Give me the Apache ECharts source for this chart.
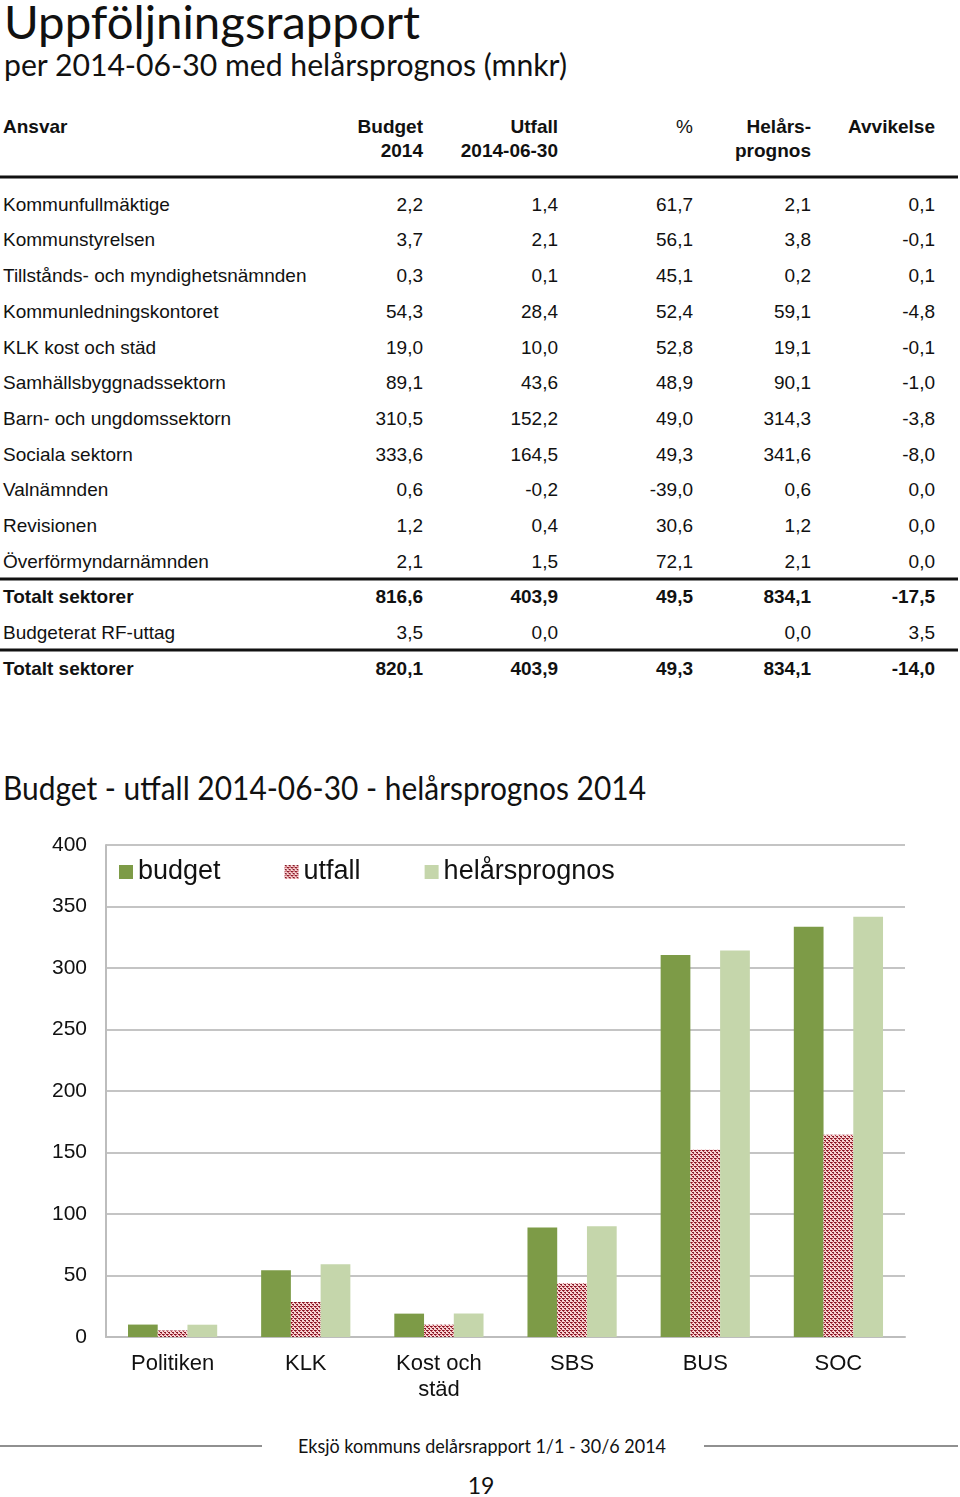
<!DOCTYPE html>
<html><head><meta charset="utf-8">
<script src="https://cdn.jsdelivr.net/npm/echarts/dist/echarts.min.js"></script>
<style>
html,body{margin:0;padding:0;background:#fff;width:960px;height:1497px;overflow:hidden}
#page{position:absolute;left:0;top:0}
#chart{position:absolute;left:0;top:820px;width:960px;height:620px}
</style></head><body>
<svg id="page" width="960" height="1497" xmlns="http://www.w3.org/2000/svg"></svg>
<div id="chart"></div>
<script>
// ---------- table data ----------
const tableRows = ['Kommunfullmäktige','Kommunstyrelsen','Tillstånds- och myndighetsnämnden','Kommunledningskontoret','KLK kost och städ','Samhällsbyggnadssektorn','Barn- och ungdomssektorn','Sociala sektorn','Valnämnden','Revisionen','Överförmyndarnämnden','Totalt sektorer','Budgeterat RF-uttag','Totalt sektorer'];
const tBudget   = [2.2, 3.7, 0.3, 54.3, 19.0, 89.1, 310.5, 333.6, 0.6, 1.2, 2.1, 816.6, 3.5, 820.1];
const tUtfall   = [1.4, 2.1, 0.1, 28.4, 10.0, 43.6, 152.2, 164.5, -0.2, 0.4, 1.5, 403.9, 0.0, 403.9];
const tPct      = [61.7, 56.1, 45.1, 52.4, 52.8, 48.9, 49.0, 49.3, -39.0, 30.6, 72.1, 49.5, null, 49.3];
const tPrognos  = [2.1, 3.8, 0.2, 59.1, 19.1, 90.1, 314.3, 341.6, 0.6, 1.2, 2.1, 834.1, 0.0, 834.1];
const tAvvik    = [0.1, -0.1, 0.1, -4.8, -0.1, -1.0, -3.8, -8.0, 0.0, 0.0, 0.0, -17.5, 3.5, -14.0];
const boldRows  = [11, 13];
const headers   = [['Budget','2014'],['Utfall','2014-06-30'],['%',''],['Helårs-','prognos'],['Avvikelse','']];

// ---------- chart data ----------
const categories = ['Politiken','KLK','Kost och\nstäd','SBS','BUS','SOC'];
const budget  = [10.1, 54.3, 19.0, 89.1, 310.5, 333.6];
const utfall  = [5.3, 28.4, 10.0, 43.6, 152.2, 164.5];
const prognos = [10.0, 59.1, 19.1, 90.1, 314.3, 341.6];
const seriesNames = ['budget','utfall','helårsprognos'];

// ---------- page text (SVG) ----------
const NS = 'http://www.w3.org/2000/svg';
const svg = document.getElementById('page');
function txt(s, x, y, attrs){
  const t = document.createElementNS(NS,'text');
  t.setAttribute('x', x); t.setAttribute('y', y);
  for (const k in attrs) t.setAttribute(k, attrs[k]);
  t.textContent = s; svg.appendChild(t); return t;
}
function line(x1,y1,x2,y2,w,c){
  const l = document.createElementNS(NS,'line');
  l.setAttribute('x1',x1);l.setAttribute('y1',y1);l.setAttribute('x2',x2);l.setAttribute('y2',y2);
  l.setAttribute('stroke',c);l.setAttribute('stroke-width',w);svg.appendChild(l);
}
const TF = "Lato, 'Noto Sans', sans-serif";
const AF = "'Liberation Sans', Arial, sans-serif";
txt('Uppföljningsrapport', 4, 39, {'font-family':TF,'font-weight':400,'font-size':47,fill:'#111',textLength:416,lengthAdjust:'spacingAndGlyphs'});
txt('per 2014-06-30 med helårsprognos (mnkr)', 4, 76, {'font-family':TF,'font-weight':400,'font-size':31,fill:'#111',textLength:563,lengthAdjust:'spacingAndGlyphs'});

const fmt = v => v == null ? '' : v.toFixed(1).replace('.', ',');
const colRight = [423, 558, 693, 811, 935];
const FS = 19;
// header
txt('Ansvar', 3, 133, {'font-family':AF,'font-size':FS,'font-weight':'bold',fill:'#111'});
headers.forEach((h,i)=>{
  const bold = h[0] !== '%';
  txt(h[0], colRight[i], 133, {'font-family':AF,'font-size':FS,'font-weight':bold?'bold':'normal','text-anchor':'end',fill:'#111'});
  if (h[1]) txt(h[1], colRight[i], 157, {'font-family':AF,'font-size':FS,'font-weight':'bold','text-anchor':'end',fill:'#111'});
});
line(0,177,958,177,3,'#111');
const cols = [tBudget, tUtfall, tPct, tPrognos, tAvvik];
tableRows.forEach((name, r)=>{
  const base = 204 + r*35.69 + 6.8;
  const w = boldRows.includes(r) ? 'bold' : 'normal';
  txt(name, 3, base, {'font-family':AF,'font-size':FS,'font-weight':w,fill:'#111'});
  cols.forEach((c,ci)=>{
    txt(fmt(c[r]), colRight[ci], base, {'font-family':AF,'font-size':FS,'font-weight':w,'text-anchor':'end',fill:'#111'});
  });
});
line(0,579,958,579,3,'#111');
line(0,650,958,650,3,'#111');

txt('Budget - utfall 2014-06-30 - helårsprognos 2014', 3, 800, {'font-family':TF,'font-weight':400,'font-size':32,fill:'#111',textLength:643,lengthAdjust:'spacingAndGlyphs'});

// footer
line(0,1446,262,1446,1.2,'#222');
line(704,1446,958,1446,1.2,'#222');
txt('Eksjö kommuns delårsrapport 1/1 - 30/6 2014', 298, 1453, {'font-family':TF,'font-weight':400,'font-size':19,fill:'#111',textLength:368,lengthAdjust:'spacingAndGlyphs'});
txt('19', 481, 1494, {'font-family':TF,'font-weight':400,'font-size':23,fill:'#111','text-anchor':'middle'});

// ---------- chart ----------
function makePattern(){
  const c = document.createElement('canvas'); c.width = 4; c.height = 4;
  const ctx = c.getContext('2d');
  ctx.fillStyle = '#f7d3d3'; ctx.fillRect(0,0,4,4);
  const D = '#7e1a27', M = '#c23c4a';
  const px = [[0,0,D],[1,0,D],[1,1,M],[2,2,D],[3,2,D],[3,3,M],[0,2,M]];
  px.forEach(p=>{ctx.fillStyle=p[2];ctx.fillRect(p[0],p[1],1,1);});
  return c;
}
const pattern = {image: makePattern(), repeat: 'repeat'};
const colors = ['#7d9b47', pattern, '#c5d6ab'];
const chart = echarts.init(document.getElementById('chart'), null, {renderer:'canvas'});
const data = [budget, utfall, prognos];
chart.setOption({
  animation:false,
  textStyle:{fontFamily:AF},
  grid:{left:106, top:25, width:799, height:492, containLabel:false},
  legend:{
    data: seriesNames, left:119, top:37, padding:0, itemGap:64, itemWidth:14, itemHeight:14,
    icon:'rect', textStyle:{fontSize:27, color:'#111', lineHeight:30, fontFamily:AF}
  },
  xAxis:{
    type:'category', data:categories,
    axisLine:{lineStyle:{color:'#bdbdbd', width:2}}, axisTick:{show:false},
    axisLabel:{fontSize:22, color:'#111', margin:14, lineHeight:26, interval:0}
  },
  yAxis:{
    type:'value', min:0, max:400, interval:50,
    axisLine:{show:true, lineStyle:{color:'#bdbdbd', width:2}}, axisTick:{show:false},
    splitLine:{lineStyle:{color:'#c4c4c4', width:2}},
    axisLabel:{fontSize:21, color:'#111', margin:19}
  },
  series: seriesNames.map((n,i)=>({
    name:n, type:'bar', data:data[i], barGap:'0%', barCategoryGap:'33%',
    itemStyle:{color:colors[i]}, emphasis:{disabled:true}
  }))
});
</script>
</body></html>
